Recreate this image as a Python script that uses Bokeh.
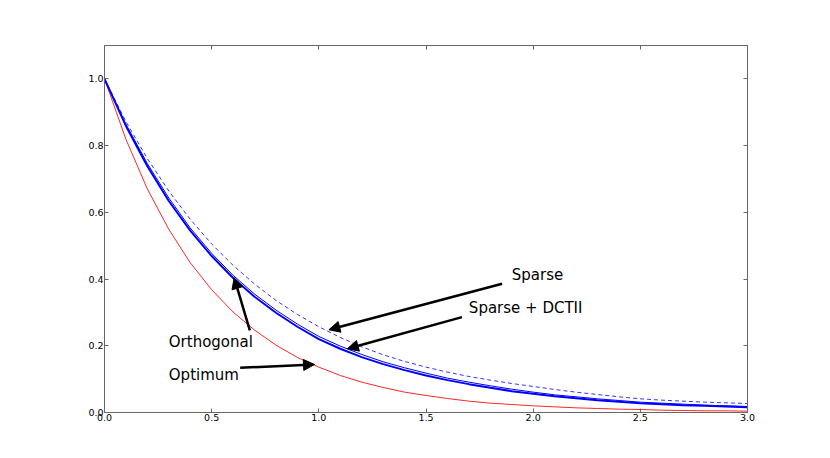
from bokeh.plotting import figure
from bokeh.models import Range1d, LinearAxis, FixedTicker, PrintfTickFormatter, Arrow, NormalHead, ColumnDataSource
from bokeh.core.properties import value
from bokeh.embed import file_html
from bokeh.resources import INLINE

x = [0.0, 0.1, 0.2, 0.3, 0.4, 0.5, 0.6, 0.7, 0.8, 0.9, 1.0, 1.1, 1.2, 1.3, 1.4, 1.5,
     1.6, 1.7, 1.8, 1.9, 2.0, 2.1, 2.2, 2.3, 2.4, 2.5, 2.6, 2.7, 2.8, 2.9, 3.0]

sparse = [1.000, 0.872, 0.761, 0.664, 0.579, 0.505, 0.441, 0.385, 0.336, 0.294, 0.257,
          0.225, 0.197, 0.173, 0.153, 0.136, 0.121, 0.108, 0.097, 0.087, 0.078,
          0.069, 0.061, 0.054, 0.047, 0.041, 0.037, 0.034, 0.031, 0.029, 0.027]

orthogonal = [1.000, 0.864, 0.746, 0.643, 0.553, 0.477, 0.411, 0.355, 0.307, 0.265, 0.228,
              0.199, 0.174, 0.152, 0.134, 0.118, 0.103, 0.091, 0.080, 0.070, 0.061,
              0.053, 0.047, 0.041, 0.036, 0.031, 0.028, 0.025, 0.022, 0.020, 0.018]

sparse_dct = [1.000, 0.859, 0.738, 0.634, 0.545, 0.469, 0.403, 0.347, 0.299, 0.257, 0.220,
              0.191, 0.166, 0.145, 0.127, 0.111, 0.097, 0.085, 0.074, 0.064, 0.056,
              0.049, 0.043, 0.037, 0.032, 0.028, 0.025, 0.022, 0.020, 0.018, 0.016]

optimum = [1.000, 0.819, 0.670, 0.549, 0.449, 0.368, 0.301, 0.247, 0.202, 0.165, 0.136,
           0.111, 0.091, 0.075, 0.061, 0.051, 0.042, 0.034, 0.028, 0.024, 0.020,
           0.017, 0.014, 0.012, 0.010, 0.009, 0.007, 0.006, 0.005, 0.005, 0.004]

x_ticks = [0.0, 0.5, 1.0, 1.5, 2.0, 2.5, 3.0]
y_ticks = [0.0, 0.2, 0.4, 0.6, 0.8, 1.0]

labels = ["Sparse", "Sparse + DCTII", "Orthogonal", "Optimum"]
label_x = [1.9, 1.7, 0.3, 0.3]
label_y = [0.412, 0.312, 0.212, 0.112]
arrow_x0 = [1.855, 1.668, 0.678, 0.633]
arrow_y0 = [0.386, 0.286, 0.246, 0.134]
arrow_x1 = [1.047, 1.133, 0.605, 0.980]
arrow_y1 = [0.248, 0.191, 0.404, 0.144]

W, H = 822, 450
p = figure(width=W, height=H, output_backend="svg", toolbar_location=None,
           x_range=Range1d(0, 3), y_range=Range1d(0, 1.1),
           min_border_left=104, min_border_right=75, min_border_top=45, min_border_bottom=38)
p.background_fill_color = "white"
p.border_fill_color = "white"
p.grid.visible = False
p.outline_line_color = "#666666"
p.outline_line_width = 1

FONT = "DejaVu Sans"

def style_axis(ax, ticks, show_labels):
    ax.ticker = FixedTicker(ticks=ticks)
    ax.formatter = PrintfTickFormatter(format="%.1f")
    ax.axis_line_color = "#666666"
    ax.major_tick_line_color = "#666666"
    ax.major_tick_in = 4
    ax.major_tick_out = 0
    ax.minor_tick_line_color = None
    ax.major_label_standoff = 1
    ax.major_label_text_font = FONT
    ax.major_label_text_font_size = "9.5px"
    ax.major_label_text_color = "black"
    if not show_labels:
        ax.major_label_text_alpha = 0.0

style_axis(p.xaxis[0], x_ticks, True)
style_axis(p.yaxis[0], y_ticks, True)
top = LinearAxis()
style_axis(top, x_ticks, False)
p.add_layout(top, "above")
right = LinearAxis()
style_axis(right, y_ticks, False)
p.add_layout(right, "right")

p.line(x, optimum, line_color="#ff0000", line_width=1, line_alpha=0.85)
p.line(x, sparse, line_color="#0000ff", line_width=1, line_dash="4 3", line_alpha=0.8)
p.line(x, orthogonal, line_color="#0000ff", line_width=1)
p.line(x, sparse_dct, line_color="#0000ff", line_width=2)

p.text(x=label_x, y=label_y, text=labels, text_font=value(FONT), text_font_size="15px",
       text_align="left", text_baseline="alphabetic", text_color="black")

src = ColumnDataSource(dict(x0=arrow_x0, y0=arrow_y0, x1=arrow_x1, y1=arrow_y1))
p.add_layout(Arrow(end=NormalHead(size=11, fill_color="black", line_color="black"),
                   x_start="x0", y_start="y0", x_end="x1", y_end="y1", source=src,
                   line_width=2.5, line_color="black"))

open("out.html", "w").write(file_html(p, INLINE))
